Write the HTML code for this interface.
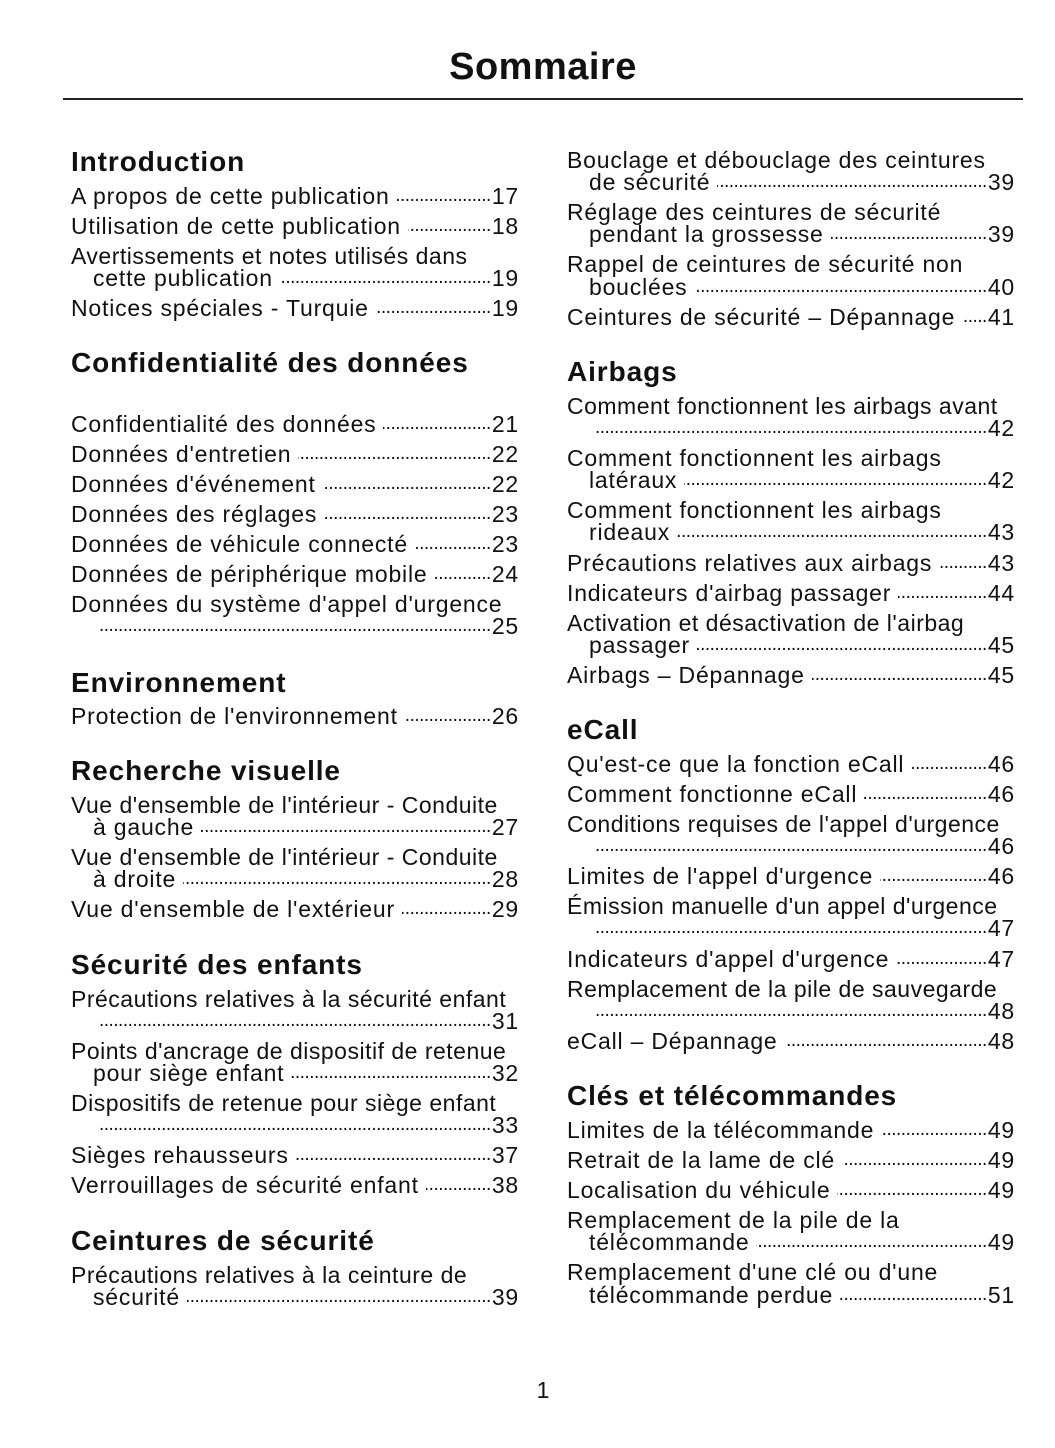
<!DOCTYPE html>
<html><head><meta charset="utf-8"><style>
body{margin:0;width:1055px;height:1448px;background:#fff;position:relative;font-family:"Liberation Sans",sans-serif;color:#111;overflow:hidden}
.r{position:absolute;height:26px;line-height:26px;font-size:23px;letter-spacing:0.8px;white-space:nowrap;display:flex}
.L{left:71px;width:448px}.R{left:567px;width:448px}
.i{padding-left:22px;box-sizing:border-box}
.d{flex:1;overflow:hidden;font-size:19px;letter-spacing:-0.5px;margin:0 1px 0 7px;direction:rtl}
.h{position:absolute;font-weight:bold;font-size:28px;letter-spacing:0.9px;line-height:32px;white-space:nowrap}
</style></head><body>
<div style="position:absolute;left:0;width:1086px;top:44px;text-align:center;font-weight:900;font-size:38px;letter-spacing:0.5px;line-height:46px">Sommaire</div>
<div style="position:absolute;left:63px;width:960px;top:98px;height:1.5px;background:#222"></div>
<div style="position:absolute;left:0;width:1086px;top:1377px;text-align:center;font-size:23px;line-height:26px">1</div>
<div id="c"></div>
<script>
const D='.'.repeat(200);
const L=[
['h',162,'Introduction'],
['e',196,'A propos de cette publication','17'],
['e',226,'Utilisation de cette publication','18'],
['t',256,'Avertissements et notes utilisés dans'],
['ei',278,'cette publication','19'],
['e',308,'Notices spéciales - Turquie','19'],
['h',363,'Confidentialité des données'],
['e',424,'Confidentialité des données','21'],
['e',454,"Données d'entretien",'22'],
['e',484,"Données d'événement",'22'],
['e',514,'Données des réglages','23'],
['e',544,'Données de véhicule connecté','23'],
['e',574,'Données de périphérique mobile','24'],
['t',604,"Données du système d'appel d'urgence"],
['ei',626,'','25'],
['h',683,'Environnement'],
['e',716,"Protection de l'environnement",'26'],
['h',771,'Recherche visuelle'],
['t',805,"Vue d'ensemble de l'intérieur - Conduite"],
['ei',827,'à gauche','27'],
['t',857,"Vue d'ensemble de l'intérieur - Conduite"],
['ei',879,'à droite','28'],
['e',909,"Vue d'ensemble de l'extérieur",'29'],
['h',965,'Sécurité des enfants'],
['t',999,'Précautions relatives à la sécurité enfant'],
['ei',1021,'','31'],
['t',1051,"Points d'ancrage de dispositif de retenue"],
['ei',1073,'pour siège enfant','32'],
['t',1103,'Dispositifs de retenue pour siège enfant'],
['ei',1125,'','33'],
['e',1155,'Sièges rehausseurs','37'],
['e',1185,'Verrouillages de sécurité enfant','38'],
['h',1241,'Ceintures de sécurité'],
['t',1275,'Précautions relatives à la ceinture de'],
['ei',1297,'sécurité','39']];
const R=[
['t',160,'Bouclage et débouclage des ceintures'],
['ei',182,'de sécurité','39'],
['t',212,'Réglage des ceintures de sécurité'],
['ei',234,'pendant la grossesse','39'],
['t',264,'Rappel de ceintures de sécurité non'],
['ei',287,'bouclées','40'],
['e',317,'Ceintures de sécurité – Dépannage','41'],
['h',372,'Airbags'],
['t',406,'Comment fonctionnent les airbags avant'],
['ei',428,'','42'],
['t',458,'Comment fonctionnent les airbags'],
['ei',480,'latéraux','42'],
['t',510,'Comment fonctionnent les airbags'],
['ei',532,'rideaux','43'],
['e',563,'Précautions relatives aux airbags','43'],
['e',593,"Indicateurs d'airbag passager",'44'],
['t',623,"Activation et désactivation de l'airbag"],
['ei',645,'passager','45'],
['e',675,'Airbags – Dépannage','45'],
['h',730,'eCall'],
['e',764,"Qu'est-ce que la fonction eCall",'46'],
['e',794,'Comment fonctionne eCall','46'],
['t',824,"Conditions requises de l'appel d'urgence"],
['ei',846,'','46'],
['e',876,"Limites de l'appel d'urgence",'46'],
['t',906,"Émission manuelle d'un appel d'urgence"],
['ei',928,'','47'],
['e',959,"Indicateurs d'appel d'urgence",'47'],
['t',989,'Remplacement de la pile de sauvegarde'],
['ei',1011,'','48'],
['e',1041,'eCall – Dépannage','48'],
['h',1096,'Clés et télécommandes'],
['e',1130,'Limites de la télécommande','49'],
['e',1160,'Retrait de la lame de clé','49'],
['e',1190,'Localisation du véhicule','49'],
['t',1220,'Remplacement de la pile de la'],
['ei',1242,'télécommande','49'],
['t',1272,"Remplacement d'une clé ou d'une"],
['ei',1295,'télécommande perdue','51']];
let h='';
function add(arr,col,x){for(const a of arr){
 if(a[0]=='h'){h+=`<div class="h" style="left:${x}px;top:${a[1]-16}px">${a[2]}</div>`;continue;}
 const cls='r '+col+(a[0]=='ei'?' i':'');
 const tight=a[2].length>36?'letter-spacing:0.5px':'';
 if(a[0]=='t'){h+=`<div class="${cls}" style="top:${a[1]-13}px"><span style="${tight}">${a[2]}</span></div>`;continue;}
 h+=`<div class="${cls}" style="top:${a[1]-13}px"><span>${a[2]}</span><span class="d">${D}</span><span>${a[3]}</span></div>`;
}}
add(L,'L',71);add(R,'R',567);
document.getElementById('c').innerHTML=h;
</script>
</body></html>
